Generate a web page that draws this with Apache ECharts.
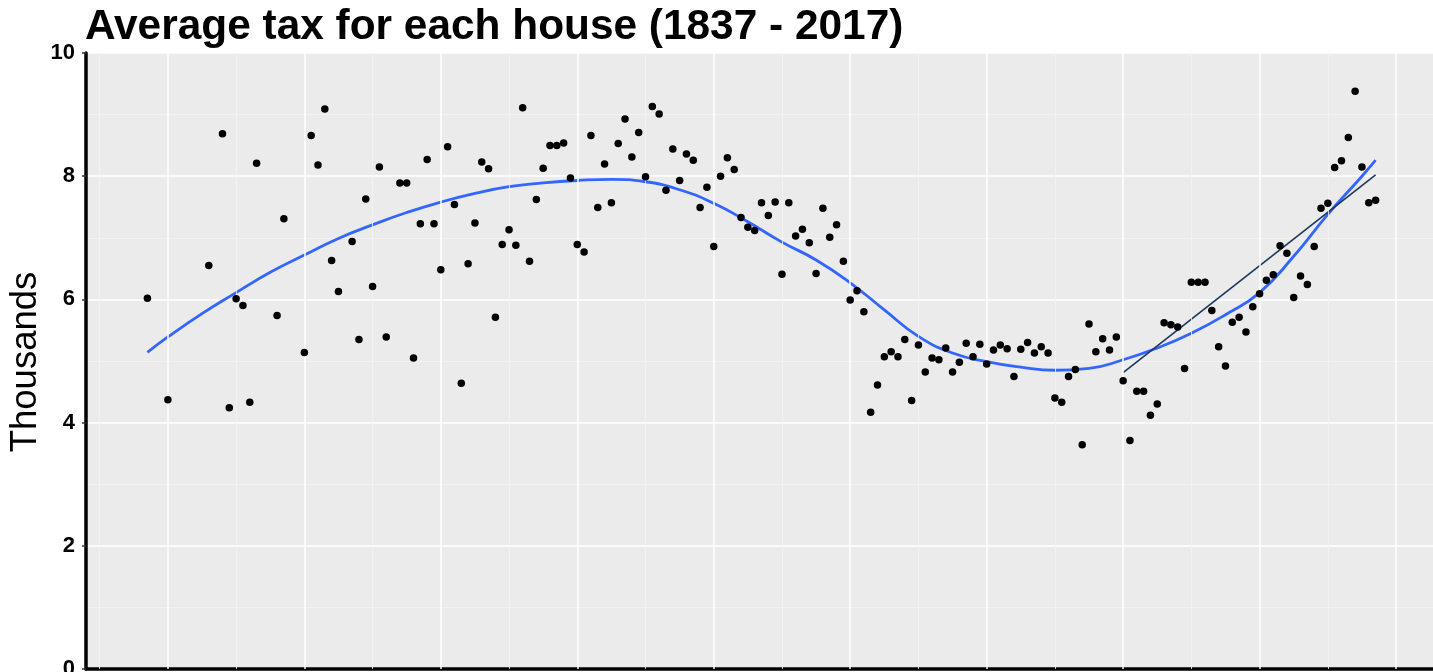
<!DOCTYPE html>
<html>
<head>
<meta charset="utf-8">
<script src="https://cdn.jsdelivr.net/npm/echarts@6/dist/echarts.min.js"></script>
<style>
html,body{margin:0;padding:0;background:#fff;}
#chart{width:1433px;height:672px;}
</style>
</head>
<body>
<div id="chart"></div>
<script>
// ---- data ----
const titleText = "Average tax for each house (1837 - 2017)";
const yAxisName = "Thousands";

const years = [1837,1840,1846,1848,1849,1850,1851,1852,1853,1856,1857,1860,1861,1862,1863,1864,1865,1867,1868,1869,1870,1871,1872,1874,1875,1876,1877,1878,1879,1880,1881,1882,1883,1884,1885,1886,1887,1888,1889,1890,1891,1892,1893,1894,1895,1896,1897,1898,1899,1900,1901,1902,1903,1904,1905,1906,1907,1908,1909,1910,1911,1912,1913,1914,1915,1916,1917,1918,1919,1920,1921,1922,1923,1924,1925,1926,1927,1928,1929,1930,1931,1932,1933,1934,1935,1936,1937,1938,1939,1940,1941,1942,1943,1944,1945,1946,1947,1948,1949,1950,1951,1952,1953,1954,1955,1956,1957,1958,1959,1960,1961,1962,1963,1964,1965,1966,1967,1968,1969,1970,1971,1972,1973,1974,1975,1976,1977,1978,1979,1980,1981,1982,1983,1984,1985,1986,1987,1988,1989,1990,1991,1992,1993,1994,1995,1996,1997,1998,1999,2000,2001,2002,2003,2004,2005,2006,2007,2008,2009,2010,2011,2012,2013,2014,2015,2016,2017];

const taxThousands = [6.02,4.37,6.55,8.69,4.24,6.01,5.90,4.33,8.21,5.74,7.31,5.14,8.66,8.18,9.09,6.63,6.13,6.94,5.35,7.63,6.21,8.15,5.39,7.89,7.89,5.05,7.23,8.27,7.23,6.48,8.48,7.54,4.64,6.58,7.24,8.23,8.12,5.71,6.89,7.13,6.88,9.11,6.62,7.62,8.13,8.50,8.50,8.54,7.97,6.89,6.77,8.66,7.49,8.20,7.57,8.53,8.93,8.31,8.71,7.99,9.13,9.01,7.77,8.44,7.93,8.36,8.26,7.49,7.82,6.86,8.00,8.30,8.11,7.33,7.17,7.12,7.57,7.36,7.58,6.41,7.57,7.03,7.14,6.92,6.42,7.48,7.01,7.21,6.62,5.99,6.14,5.80,4.17,4.61,5.07,5.15,5.07,5.35,4.36,5.26,4.82,5.05,5.02,5.21,4.82,4.98,5.29,5.07,5.27,4.95,5.18,5.26,5.20,4.75,5.19,5.30,5.13,5.23,5.13,4.40,4.33,4.75,4.86,3.64,5.60,5.15,5.36,5.18,5.39,4.68,3.71,4.51,4.51,4.12,4.30,5.62,5.59,5.55,4.88,6.28,6.28,6.28,5.82,5.23,4.92,5.63,5.71,5.47,5.88,6.09,6.31,6.40,6.87,6.75,6.03,6.38,6.24,6.86,7.48,7.56,8.14,8.25,8.63,9.38,8.15,7.57,7.61];

const smoothYears = [1837,1840,1845,1850,1855,1860,1865,1870,1875,1880,1885,1890,1895,1900,1905,1910,1915,1920,1925,1930,1935,1940,1945,1950,1955,1960,1965,1970,1975,1980,1985,1990,1995,2000,2005,2010,2015,2017];
const smoothValues = [5.14,5.39,5.77,6.11,6.44,6.72,6.99,7.21,7.41,7.58,7.72,7.83,7.89,7.93,7.95,7.91,7.78,7.56,7.26,6.93,6.64,6.27,5.83,5.40,5.13,4.99,4.90,4.85,4.88,5.02,5.21,5.45,5.75,6.11,6.70,7.38,8.00,8.26];

const trendYears = [1980, 2017];
const trendValues = [4.81, 8.02];

const majorXGrid = [1840,1860,1880,1900,1920,1940,1960,1980,2000,2020];
const minorXGrid = [1830,1850,1870,1890,1910,1930,1950,1970,1990,2010];
const yTicks = [0,2,4,6,8,10];

// ---- chart ----
const chart = echarts.init(document.getElementById('chart'), null, {renderer:'canvas'});
const pts = years.map((y,i)=>[y, taxThousands[i]]);
const smooth = smoothYears.map((y,i)=>[y, smoothValues[i]]);
const trend = trendYears.map((y,i)=>[y, trendValues[i]]);

chart.setOption({
  animation:false,
  backgroundColor:'#ffffff',
  title:{
    text:titleText,
    left:85, top:6,
    padding:0,
    textStyle:{fontFamily:'Liberation Sans', fontWeight:'bold', fontSize:42.4, color:'#000'}
  },
  graphic:[{
    type:'text', x:26, y:362, rotation:Math.PI/2, silent:true,
    style:{text:yAxisName, fontFamily:'Liberation Sans', fontSize:36.5, fill:'#000',
           textAlign:'center', textVerticalAlign:'middle'}
  }],
  grid:{
    left:86, top:53, right:-4, bottom:3,
    outerBoundsMode:'none', containLabel:false,
    show:true, backgroundColor:'#EBEBEB', borderWidth:0
  },
  xAxis:{
    type:'value', min:1828, max:2026,
    axisLine:{show:true, onZero:false, lineStyle:{color:'#000', width:3.5}},
    axisTick:{show:false}, minorTick:{show:false}, axisLabel:{show:false},
    splitLine:{show:false}, minorSplitLine:{show:false}
  },
  yAxis:{
    type:'value', min:yTicks[0], max:yTicks[yTicks.length-1], interval:2,
    axisLine:{show:true, onZero:false, lineStyle:{color:'#000', width:3.5}},
    axisTick:{show:true, length:4, lineStyle:{color:'#333', width:1.5}},
    axisLabel:{fontFamily:'Liberation Sans', fontWeight:'bold', fontSize:22, color:'#000', margin:11},
    splitLine:{show:true, lineStyle:{color:'#ffffff', width:1.5}},
    minorTick:{show:false, splitNumber:2},
    minorSplitLine:{show:true, lineStyle:{color:'#F4F4F4', width:0.8}}
  },
  series:[
    {
      type:'line', data:[], z:1, silent:true,
      markLine:{
        silent:true, symbol:'none', label:{show:false}, animation:false,
        data:majorXGrid.map(v=>({xAxis:v, lineStyle:{color:'#ffffff', width:1.5, type:'solid'}}))
          .concat(minorXGrid.map(v=>({xAxis:v, lineStyle:{color:'#F4F4F4', width:0.8, type:'solid'}})))
      }
    },
    {
      type:'line', data:smooth, smooth:0.5, showSymbol:false, symbol:'none', z:3,
      lineStyle:{color:'#3366FF', width:2.8}
    },
    {
      type:'line', data:trend, showSymbol:false, symbol:'none', z:4,
      lineStyle:{color:'#1C375C', width:1.6}
    },
    {
      type:'scatter', data:pts, symbol:'circle', symbolSize:7.5, z:5,
      itemStyle:{color:'#000000', opacity:1}
    }
  ]
});
</script>
</body>
</html>
